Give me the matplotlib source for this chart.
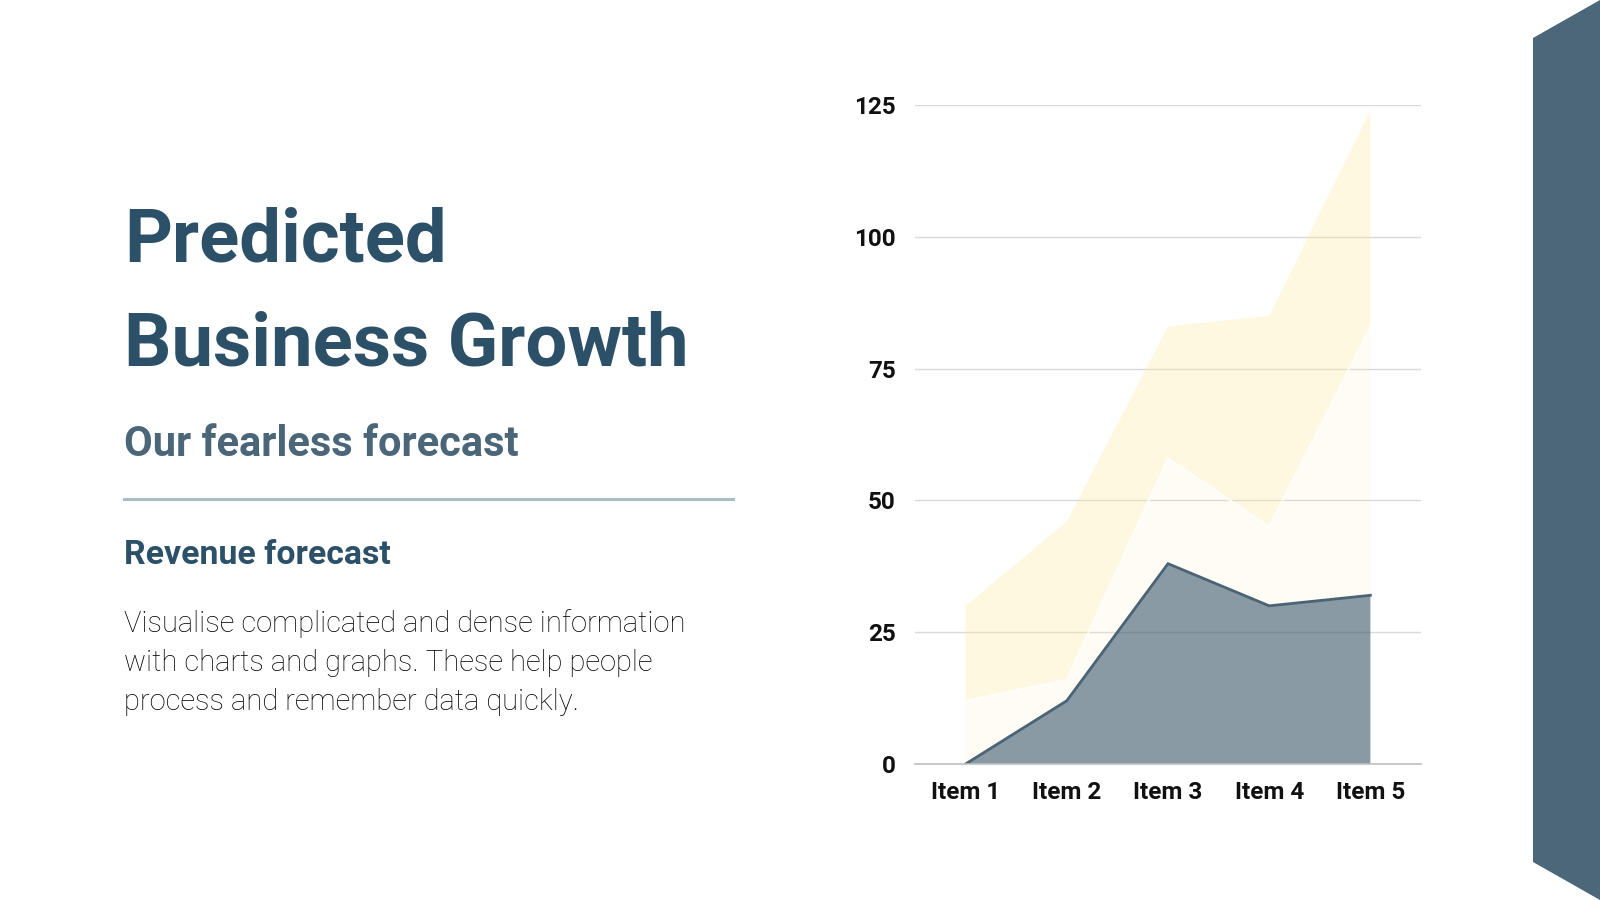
import matplotlib
matplotlib.use("Agg")
import matplotlib.pyplot as plt
from matplotlib.patches import Polygon
import numpy as np

# ---- data ----
categories = ["Item 1", "Item 2", "Item 3", "Item 4", "Item 5"]
series_a = [0, 12, 38, 30, 32]        # dark bottom band
series_b = [12, 4, 20, 15, 51]        # pale band (stacked on a)
series_c = [18, 30, 25, 40, 41]       # yellow band (stacked on a+b)
y_ticks = [0, 25, 50, 75, 100, 125]

title_lines = ["Predicted", "Business Growth"]
subtitle = "Our fearless forecast"
section = "Revenue forecast"
body_lines = ["Visualise complicated and dense information",
              "with charts and graphs. These help people",
              "process and remember data quickly."]

W, H = 1600, 900
FONT = ["Roboto", "DejaVu Sans"]
plt.rcParams["font.family"] = FONT

fig = plt.figure(figsize=(16, 9), dpi=100)
fig.patch.set_facecolor("white")

def fx(x):
    return x / W

def fy(y):
    return 1 - y / H

# right-hand decorative stripe
stripe = Polygon([(fx(1533), fy(38)), (fx(1600), fy(0)), (fx(1600), fy(900)), (fx(1533), fy(862))],
                 closed=True, transform=fig.transFigure, facecolor="#4b6779", edgecolor="none")
fig.patches.append(stripe)

# left text block
title_color = "#2b5068"
fig.text(fx(124), fy(261), title_lines[0], fontsize=53.5, fontweight="semibold",
         color=title_color, ha="left", va="baseline")
fig.text(fx(124), fy(365), title_lines[1], fontsize=53.5, fontweight="semibold",
         color=title_color, ha="left", va="baseline")
fig.text(fx(124), fy(456), subtitle, fontsize=30, fontweight="semibold",
         color="#4a6678", ha="left", va="baseline")
fig.add_artist(plt.Line2D([fx(124), fx(733)], [fy(499), fy(499)], transform=fig.transFigure,
                          color="#a9bcc8", lw=2.2))
fig.text(fx(124), fy(564), section, fontsize=24.4, fontweight="semibold",
         color=title_color, ha="left", va="baseline")
for i, line in enumerate(body_lines):
    fig.text(fx(124), fy(632 + i * 38.8), line, fontsize=21, fontweight="light",
             color="#000000", ha="left", va="baseline")

# chart
ax = fig.add_axes([fx(915), fy(764), fx(1421) - fx(915), (764 - 105) / H])
x = np.arange(len(categories))
a = np.array(series_a, dtype=float)
b = a + np.array(series_b, dtype=float)
c = b + np.array(series_c, dtype=float)

yellow = (252 / 255, 234 / 255, 165 / 255)
ax.fill_between(x, b, c, facecolor=yellow + (0.33,), edgecolor="none", zorder=2)
ax.fill_between(x, a, b, facecolor=yellow + (0.12,), edgecolor="none", zorder=2)
ax.plot(x, b, color="white", lw=1.5, alpha=0.8, zorder=3)
ax.fill_between(x, 0, a, facecolor=(74 / 255, 100 / 255, 117 / 255, 0.65), edgecolor="none", zorder=4)
ax.plot(x, a, color="#4a6475", lw=2, zorder=5, solid_joinstyle="miter")

ax.set_xlim(-0.5, len(categories) - 0.5)
ax.set_ylim(0, 125)
ax.set_yticks(y_ticks)
ax.set_xticks(x)
ax.set_xticklabels(categories)
ax.yaxis.grid(True, color="#d9d9d9", lw=1, zorder=0)
ax.set_axisbelow(True)
for s in ["top", "right", "left"]:
    ax.spines[s].set_visible(False)
ax.spines["bottom"].set_color("#bfbfbf")
ax.spines["bottom"].set_linewidth(1.2)
ax.spines["bottom"].set_zorder(6)
ax.tick_params(axis="both", length=0, labelsize=17.5, labelcolor="#111111")
ax.tick_params(axis="y", pad=14)
ax.tick_params(axis="x", pad=12)
for lbl in ax.get_xticklabels() + ax.get_yticklabels():
    lbl.set_fontweight("bold")
ax.set_facecolor("none")

fig.savefig("out.png", dpi=100, facecolor="white")
